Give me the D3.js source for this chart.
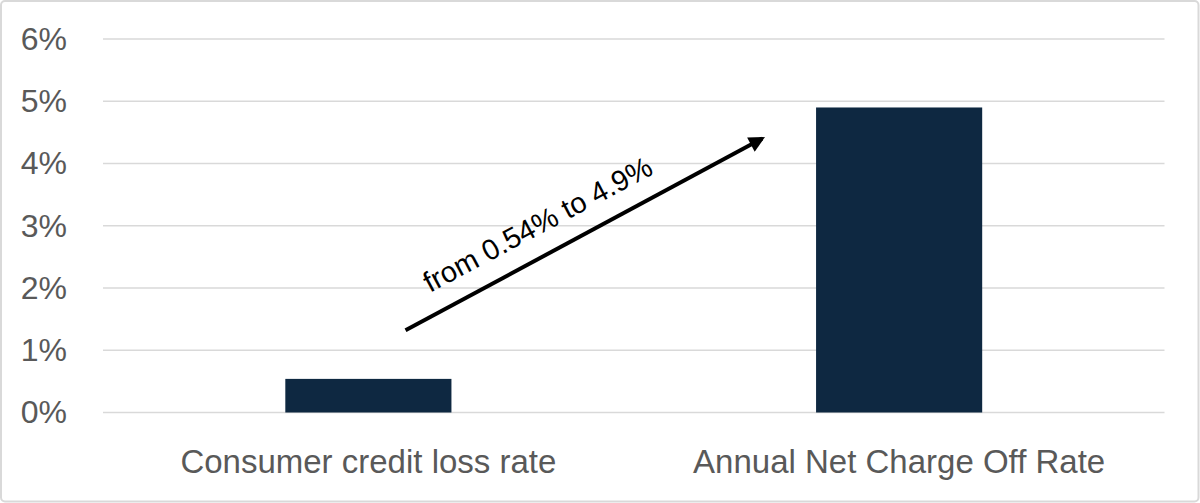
<!DOCTYPE html>
<html><head><meta charset="utf-8">
<script src="https://cdn.jsdelivr.net/npm/d3@7"></script>
<style>html,body{margin:0;padding:0;background:#fff;}svg{display:block;}</style>
</head><body>
<svg id="chart" width="1200" height="503"></svg>
<script>
const categories = ["Consumer credit loss rate", "Annual Net Charge Off Rate"];
const values = [0.54, 4.9];
const yTicks = [0, 1, 2, 3, 4, 5, 6];
const annotationText = "from 0.54% to 4.9%";
// arrow: start/end as [fraction across plot, value]
const arrowFrom = [0.285, 1.32];
const arrowTo = [0.621, 4.4];
const textAnchorPos = [0.308, 1.92];

const W = 1200, H = 503;
const margin = {left: 103, right: 35.5, top: 39, bottom: 90.5};
const svg = d3.select("#chart");
const FONT = "'Liberation Sans', Arial, sans-serif";

svg.append("rect").attr("x", 1).attr("y", 1).attr("width", W - 2.5).attr("height", H - 2.5)
  .attr("rx", 4).attr("fill", "#fff").attr("stroke", "#d9d9d9").attr("stroke-width", 2);

const x = d3.scaleBand().domain(categories)
  .range([margin.left, W - margin.right]).paddingInner(0.687).paddingOuter(0.3435);
const y = d3.scaleLinear().domain([0, 6]).range([H - margin.bottom, margin.top]);
const xf = d3.scaleLinear().domain([0, 1]).range([margin.left, W - margin.right]);

// gridlines
svg.append("g").selectAll("line").data(yTicks).join("line")
  .attr("x1", margin.left).attr("x2", W - margin.right)
  .attr("y1", d => y(d)).attr("y2", d => y(d))
  .attr("stroke", "#d9d9d9").attr("stroke-width", 1.5);

// y axis labels
const yAxis = svg.append("g").attr("transform", `translate(67,0)`)
  .call(d3.axisLeft(y).tickValues(yTicks).tickFormat(d => d + "%").tickSize(0).tickPadding(0));
yAxis.select(".domain").remove();
yAxis.selectAll("text").attr("font-family", FONT)
  .attr("font-size", 32).attr("fill", "#595959");

// bars
svg.append("g").selectAll("rect").data(values).join("rect")
  .attr("x", (d, i) => x(categories[i])).attr("width", x.bandwidth())
  .attr("y", d => y(d)).attr("height", d => y(0) - y(d))
  .attr("fill", "#0e2841");

// x labels
const xAxis = svg.append("g").attr("transform", `translate(0,${y(0)})`)
  .call(d3.axisBottom(x).tickSize(0).tickPadding(0));
xAxis.select(".domain").remove();
xAxis.selectAll("text").attr("font-family", FONT)
  .attr("font-size", 33).attr("fill", "#595959").attr("dy", null).attr("y", 60);

// arrow
const defs = svg.append("defs");
defs.append("marker").attr("id", "ah").attr("viewBox", "0 0 10 10").attr("refX", 8).attr("refY", 5)
  .attr("markerWidth", 4.5).attr("markerHeight", 4).attr("orient", "auto").attr("markerUnits", "strokeWidth")
  .append("path").attr("d", "M0,0 L10,5 L0,10 Z").attr("fill", "#000");
svg.append("line")
  .attr("x1", xf(arrowFrom[0])).attr("y1", y(arrowFrom[1]))
  .attr("x2", xf(arrowTo[0])).attr("y2", y(arrowTo[1]))
  .attr("stroke", "#000").attr("stroke-width", 4).attr("marker-end", "url(#ah)");

// annotation text
svg.append("text").attr("transform", `translate(${xf(textAnchorPos[0])},${y(textAnchorPos[1])}) rotate(-28)`)
  .attr("font-family", FONT).attr("font-size", 29)
  .attr("fill", "#000").text(annotationText);
</script>
</body></html>
